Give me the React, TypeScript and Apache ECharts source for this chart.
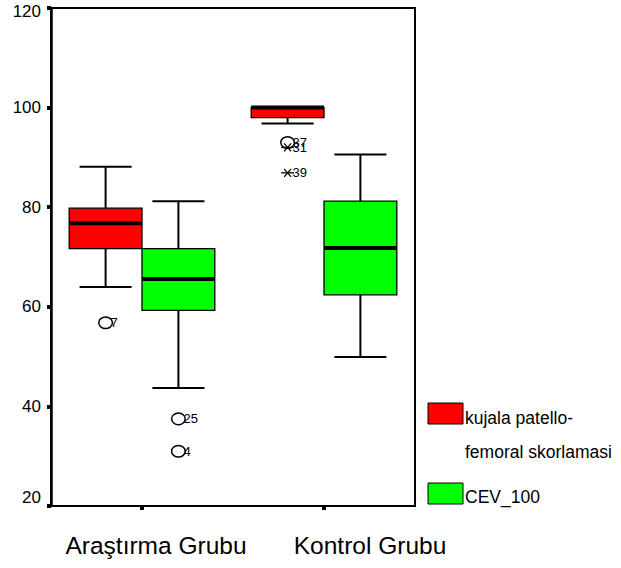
import React, { useEffect, useRef } from 'react';
import * as echarts from 'echarts';

const categories = ['Araştırma Grubu', 'Kontrol Grubu'];
const seriesNames = ['kujala patello-femoral skorlamasi', 'CEV_100'];
// [min, Q1, median, Q3, max]
const kujalaBoxes = [
  [64.0, 71.7, 76.8, 79.8, 88.1],
  [96.8, 98.0, 100.0, 100.0, 100.0],
];
const cevBoxes = [
  [43.7, 59.3, 65.6, 71.7, 81.2],
  [49.9, 62.4, 71.8, 81.2, 90.6],
];
// [category index, value, case label, marker]
const kujalaOutliers: any[] = [
  [0, 56.8, '7', 'circle'],
  [1, 93.0, '37', 'circle'],
  [1, 92.0, '31', 'star'],
  [1, 86.9, '39', 'star'],
];
const cevOutliers: any[] = [
  [0, 37.5, '25', 'circle'],
  [0, 31.0, '4', 'circle'],
];
const yMin = 20;
const yMax = 120;
const yInterval = 20;

const FONT = "'Liberation Sans', Arial, Helvetica, sans-serif";
const RED = '#ff0000';
const GREEN = '#00ff00';

const ln = (x1: number, y1: number, x2: number, y2: number, lw: number) => ({
  type: 'line',
  shape: { x1, y1, x2, y2 },
  style: { stroke: '#000', lineWidth: lw },
});

function boxRender(offsetFrac: number) {
  return (params: any, api: any) => {
    const cat = api.value(0);
    const band = api.size([1, 0])[0];
    const cx = api.coord([cat, yMin])[0] + offsetFrac * band;
    const w = band * 0.4;
    const cap = band * 0.286;
    const y = (i: number) => api.coord([cat, api.value(i)])[1];
    const pMin = y(1), pQ1 = y(2), pMed = y(3), pQ3 = y(4), pMax = y(5);
    const children: any[] = [];
    if (pMin > pQ1 + 0.5) {
      children.push(ln(cx, pQ1, cx, pMin, 2));
      children.push(ln(cx - cap / 2, pMin, cx + cap / 2, pMin, 2));
    }
    if (pMax < pQ3 - 0.5) {
      children.push(ln(cx, pQ3, cx, pMax, 2));
      children.push(ln(cx - cap / 2, pMax, cx + cap / 2, pMax, 2));
    }
    children.push({
      type: 'rect',
      shape: { x: cx - w / 2, y: pQ3, width: w, height: pQ1 - pQ3 },
      style: { fill: api.visual('color'), stroke: '#000', lineWidth: 1.3 },
    });
    children.push(ln(cx - w / 2, pMed, cx + w / 2, pMed, 4));
    return { type: 'group', children };
  };
}

function outlierRender(offsetFrac: number, list: any[]) {
  return (params: any, api: any) => {
    const cat = api.value(0);
    const band = api.size([1, 0])[0];
    const pt = api.coord([cat, api.value(1)]);
    const cx = pt[0] + offsetFrac * band;
    const cy = pt[1];
    const item = list[params.dataIndex];
    const marker =
      item[3] === 'circle'
        ? {
            type: 'ellipse',
            shape: { cx, cy, rx: 6.8, ry: 5.8 },
            style: { fill: 'none', stroke: '#000', lineWidth: 1.5 },
          }
        : {
            type: 'group',
            children: [
              ln(cx - 6.5, cy, cx + 6.5, cy, 1.3),
              ln(cx - 3.5, cy - 4, cx + 3.5, cy + 4, 1.3),
              ln(cx - 3.5, cy + 4, cx + 3.5, cy - 4, 1.3),
            ],
          };
    const label = {
      type: 'text',
      x: cx + 5,
      y: cy,
      style: {
        text: item[2],
        fill: '#000',
        font: `13px 'Liberation Sans Narrow', ${FONT}`,
        align: 'left',
        verticalAlign: 'middle',
      },
    };
    return { type: 'group', children: [marker, label] };
  };
}

export default function App() {
  const ref = useRef<HTMLDivElement>(null);
  useEffect(() => {
    if (!ref.current) return;
    const chart = echarts.init(ref.current, null, { renderer: 'svg' });
    const option: any = {
      animation: false,
      backgroundColor: '#fff',
      textStyle: { fontFamily: FONT },
      grid: {
        left: 51,
        top: 8,
        right: 206,
        bottom: 62,
        show: true,
        borderColor: '#000',
        borderWidth: 2,
        containLabel: false,
      },
      xAxis: {
        type: 'category',
        data: categories,
        boundaryGap: true,
        axisLine: { show: true, lineStyle: { color: '#000', width: 2 } },
        axisTick: { show: true, interval: 0, alignWithLabel: true, length: 4, lineStyle: { color: '#000', width: 4 } },
        splitLine: { show: false },
        axisLabel: {
          interval: 0,
          hideOverlap: false,
          color: '#000',
          fontFamily: FONT,
          fontSize: 24.5,
          margin: 27,
          formatter: (v: string, i: number) => (i === 0 ? `{a|${v}}` : `{b|${v}}`),
          rich: {
            a: { fontSize: 24.5, fontFamily: FONT, color: '#000', padding: [0, 0, 0, 28] },
            b: { fontSize: 24.5, fontFamily: FONT, color: '#000', padding: [0, 0, 0, 92] },
          },
        },
      },
      yAxis: {
        type: 'value',
        min: yMin,
        max: yMax,
        interval: yInterval,
        axisLine: { show: true, lineStyle: { color: '#000', width: 2.5 } },
        axisTick: { show: true, length: 4, lineStyle: { color: '#000', width: 4 } },
        splitLine: { show: false },
        axisLabel: {
          color: '#000',
          fontFamily: FONT,
          fontSize: 17,
          margin: 10,
          formatter: (v: number) => (v === yMin ? `{m|${v}}` : v === yMax ? `{t|${v}}` : `${v}`),
          rich: {
            m: { fontSize: 17, fontFamily: FONT, color: '#000', padding: [0, 0, 17, 0] },
            t: { fontSize: 17, fontFamily: FONT, color: '#000', padding: [7, 0, 0, 0] },
          },
        },
      },
      series: [
        {
          name: seriesNames[0],
          type: 'custom',
          itemStyle: { color: RED },
          clip: false,
          encode: { x: 0, y: [1, 2, 3, 4, 5] },
          data: kujalaBoxes.map((b, i) => [i, ...b]),
          renderItem: boxRender(-0.2),
          z: 2,
        },
        {
          name: seriesNames[1],
          type: 'custom',
          itemStyle: { color: GREEN },
          clip: false,
          encode: { x: 0, y: [1, 2, 3, 4, 5] },
          data: cevBoxes.map((b, i) => [i, ...b]),
          renderItem: boxRender(0.2),
          z: 2,
        },
        {
          name: seriesNames[0] + ' outliers',
          type: 'custom',
          clip: false,
          encode: { x: 0, y: 1 },
          data: kujalaOutliers.map((o) => [o[0], o[1]]),
          renderItem: outlierRender(-0.2, kujalaOutliers),
          z: 3,
        },
        {
          name: seriesNames[1] + ' outliers',
          type: 'custom',
          clip: false,
          encode: { x: 0, y: 1 },
          data: cevOutliers.map((o) => [o[0], o[1]]),
          renderItem: outlierRender(0.2, cevOutliers),
          z: 3,
        },
      ],
      graphic: [
        {
          type: 'rect',
          shape: { x: 428, y: 403, width: 35, height: 21 },
          style: { fill: RED, stroke: '#000', lineWidth: 1 },
        },
        {
          type: 'text',
          x: 465,
          y: 418,
          style: { text: 'kujala patello-', fill: '#000', font: `17.5px ${FONT}`, verticalAlign: 'middle', align: 'left' },
        },
        {
          type: 'text',
          x: 465,
          y: 452,
          style: { text: 'femoral skorlamasi', fill: '#000', font: `17.5px ${FONT}`, verticalAlign: 'middle', align: 'left' },
        },
        {
          type: 'rect',
          shape: { x: 428, y: 483, width: 35, height: 21 },
          style: { fill: GREEN, stroke: '#000', lineWidth: 1 },
        },
        {
          type: 'text',
          x: 465,
          y: 497,
          style: { text: 'CEV_100', fill: '#000', font: `17.5px ${FONT}`, verticalAlign: 'middle', align: 'left' },
        },
      ],
    };
    chart.setOption(option);
    return () => chart.dispose();
  }, []);
  return <div ref={ref} style={{ width: 621, height: 568, position: 'absolute', left: 0, top: 0 }} />;
}
